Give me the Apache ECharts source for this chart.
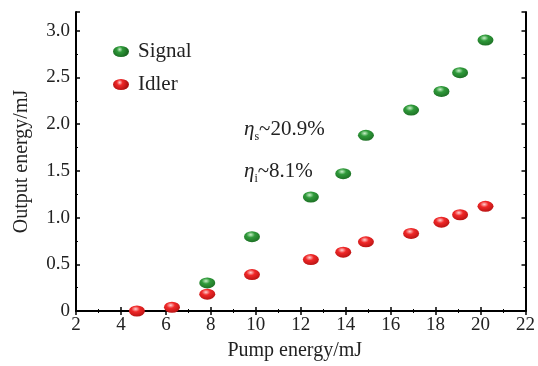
<!DOCTYPE html>
<html><head><meta charset="utf-8">
<script src="https://cdn.jsdelivr.net/npm/echarts@6/dist/echarts.min.js"></script>
<style>html,body{margin:0;padding:0;background:#fff}#c{width:538px;height:366px}</style>
</head><body><div id="c"></div>
<script>
var pumpEnergy = [4.71, 6.27, 7.84, 9.83, 12.45, 13.89, 14.9, 16.91, 18.26, 19.09, 20.22];
var signalEnergy = [null, null, 0.30, 0.795, 1.22, 1.47, 1.88, 2.15, 2.35, 2.55, 2.90];
var idlerEnergy = [0.0, 0.04, 0.18, 0.39, 0.55, 0.63, 0.74, 0.83, 0.95, 1.03, 1.12];
var seriesNames = ['Signal', 'Idler'];
var xTicks = [2, 4, 6, 8, 10, 12, 14, 16, 18, 20, 22];
var yTicks = [0, 0.5, 1.0, 1.5, 2.0, 2.5, 3.0];

function pairs(xs, ys){ var o=[]; for(var i=0;i<xs.length;i++){ if(ys[i]!==null) o.push([xs[i], ys[i]]);} return o; }
function grad(light, mid, dark){
  return {type:'radial', x:0.42, y:0.32, r:0.75, colorStops:[
    {offset:0, color:light},{offset:0.35, color:mid},{offset:1, color:dark}]};
}
var font = 'Liberation Serif, Times New Roman, serif';
var chart = echarts.init(document.getElementById('c'));
var axisCommon = {
  axisLine:{lineStyle:{color:'#000', width:2}},
  axisTick:{inside:true, length:4, lineStyle:{color:'#000', width:1.5}},
  minorTick:{show:true, splitNumber:2, length:2, lineStyle:{color:'#000', width:1}},
  splitLine:{show:false}
};
chart.setOption({
  animation:false,
  grid:{left:76, right:9, top:12, bottom:53},
  xAxis:[
    Object.assign({type:'value', min:xTicks[0], max:xTicks[xTicks.length-1], interval:2, position:'bottom',
      name:'Pump energy/mJ', nameLocation:'middle', nameGap:30,
      nameTextStyle:{fontFamily:font, fontSize:20, color:'#222', padding:[0,12,0,0]},
      axisLabel:{fontFamily:font, fontSize:19, color:'#222', margin:5}}, axisCommon),
    Object.assign({type:'value', min:xTicks[0], max:xTicks[xTicks.length-1], interval:2, position:'top',
      axisLabel:{show:false}}, axisCommon)
  ],
  yAxis:[
    Object.assign({type:'value', min:0, max:3.2, interval:0.5, position:'left',
      name:'Output energy/mJ', nameLocation:'middle', nameGap:44,
      nameTextStyle:{fontFamily:font, fontSize:20, color:'#222'},
      axisLabel:{fontFamily:font, fontSize:19, color:'#222', margin:6,
        formatter:function(v){ return yTicks.indexOf(v)<0 ? '' : (v===0?'0':v.toFixed(1)); }}}, axisCommon),
    Object.assign({type:'value', min:0, max:3.2, interval:0.5, position:'right',
      axisLabel:{show:false}}, axisCommon)
  ],
  legend:{
    left:108, top:36, orient:'vertical', itemGap:12, itemWidth:16, itemHeight:11,
    icon:'path://M0,5.5a8,5.5 0 1,0 16,0a8,5.5 0 1,0 -16,0z',
    textStyle:{fontFamily:font, fontSize:21, color:'#222', padding:[0,0,0,4]},
    data:seriesNames
  },
  series:[
    {name:seriesNames[0], type:'scatter', symbol:'circle', symbolSize:[16,11],
     data:pairs(pumpEnergy, signalEnergy),
     itemStyle:{color:grad('#c8f0c8','#2f9a3a','#1b6a22'), opacity:1}},
    {name:seriesNames[1], type:'scatter', symbol:'circle', symbolSize:[16,11],
     data:pairs(pumpEnergy, idlerEnergy),
     itemStyle:{color:grad('#ffd0d0','#f02828','#b01010'), opacity:1}}
  ],
  graphic:[
    {type:'text', left:244, top:119, style:{
      text:'{e|η}{s|s}{t|~20.9%}',
      rich:{e:{fontFamily:font, fontStyle:'italic', fontSize:21, fill:'#222'},
            s:{fontFamily:font, fontSize:12, fill:'#222', padding:[14,0,0,0]},
            t:{fontFamily:font, fontSize:21, fill:'#222'}}}},
    {type:'text', left:244, top:161, style:{
      text:'{e|η}{s|i}{t|~8.1%}',
      rich:{e:{fontFamily:font, fontStyle:'italic', fontSize:21, fill:'#222'},
            s:{fontFamily:font, fontSize:12, fill:'#222', padding:[14,0,0,0]},
            t:{fontFamily:font, fontSize:21, fill:'#222'}}}}
  ]
});
</script></body></html>
